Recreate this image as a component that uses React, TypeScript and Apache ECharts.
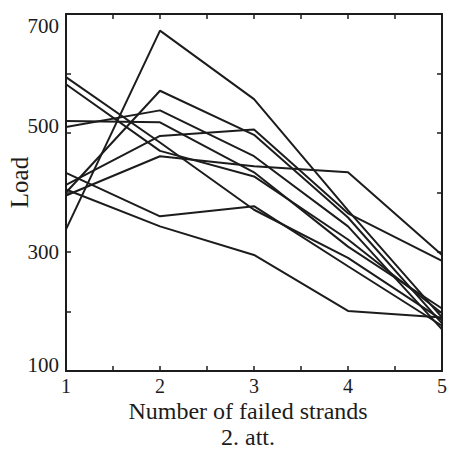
import { useEffect, useRef } from "react";
import * as echarts from "echarts";

// Number of failed strands (x) and load values for each test run
const strands = [1, 2, 3, 4, 5];
const run1 = [338, 672, 557, 370, 190];
const run2 = [400, 571, 497, 358, 180];
const run3 = [413, 495, 506, 365, 285];
const run4 = [395, 461, 444, 434, 295];
const run5 = [594, 484, 371, 290, 186];
const run6 = [582, 470, 427, 321, 197];
const run7 = [510, 538, 461, 343, 170];
const run8 = [520, 518, 434, 309, 205];
const run9 = [433, 360, 377, 276, 176];
const run10 = [405, 343, 295, 201, 190];
const runs = [run1, run2, run3, run4, run5, run6, run7, run8, run9, run10];

const yTickLabels = [100, 300, 500, 700];
const xTickLabels = [1, 2, 3, 4, 5];

const FONT = "Liberation Serif";
const INK = "#1c1c1c";

export default function App() {
  const ref = useRef<HTMLDivElement>(null);
  useEffect(() => {
    document.body.style.margin = "0";
    const chart = echarts.init(ref.current!, null, { renderer: "svg" });
    const tickStyle = { show: true, inside: true, length: 5, lineStyle: { color: INK, width: 1.5 } };
    const lineStyle = { show: true, lineStyle: { color: INK, width: 2 } };
    const labelBase = { fontFamily: FONT, fontSize: 21, color: INK };
    chart.setOption({
      animation: false,
      backgroundColor: "#ffffff",
      grid: {
        left: 66,
        top: 14,
        width: 376,
        height: 357,
        containLabel: false,
        outerBoundsMode: "none",
      },
      xAxis: [
        {
          type: "value",
          min: 1,
          max: 5,
          interval: 0.5,
          position: "bottom",
          axisLine: lineStyle,
          axisTick: tickStyle,
          splitLine: { show: false },
          axisLabel: {
            ...labelBase,
            fontSize: 20,
            lineHeight: 20,
            margin: 5,
            formatter: (v: number) => (xTickLabels.includes(v) ? String(v) : ""),
          },
          name: "Number of failed strands\n2. att.",
          nameLocation: "middle",
          nameMoveOverlap: false,
          nameGap: 27,
          nameTextStyle: {
            fontFamily: FONT,
            fontSize: 24,
            color: INK,
            lineHeight: 26,
            verticalAlign: "top",
            padding: [0, 12, 0, 0],
          },
        },
        {
          type: "value",
          min: 1,
          max: 5,
          interval: 0.5,
          position: "top",
          axisLine: lineStyle,
          axisTick: tickStyle,
          splitLine: { show: false },
          axisLabel: { show: false },
        },
      ],
      yAxis: [
        {
          type: "value",
          min: 100,
          max: 700,
          interval: 100,
          position: "left",
          axisLine: lineStyle,
          axisTick: tickStyle,
          splitLine: { show: false },
          axisLabel: {
            ...labelBase,
            margin: 7,
            formatter: (v: number) => (yTickLabels.includes(v) ? `{l${v}|${v}}` : ""),
            rich: {
              l100: { ...labelBase, padding: [0, 0, 12, 0] },
              l300: { ...labelBase },
              l500: { ...labelBase, padding: [0, 0, 14, 0] },
              l700: { ...labelBase, padding: [24, 0, 0, 0] },
            },
          },
          name: "Load",
          nameLocation: "middle",
          nameMoveOverlap: false,
          nameGap: 34,
          nameTextStyle: { fontFamily: FONT, fontSize: 25, color: INK, padding: [0, 0, 0, 20] },
        },
        {
          type: "value",
          min: 100,
          max: 700,
          interval: 100,
          position: "right",
          axisLine: lineStyle,
          axisTick: tickStyle,
          splitLine: { show: false },
          axisLabel: { show: false },
        },
      ],
      series: runs.map((r, i) => ({
        name: `Run ${i + 1}`,
        type: "line",
        xAxisIndex: 0,
        yAxisIndex: 0,
        symbol: "none",
        lineStyle: { color: INK, width: 2 },
        data: strands.map((s, j) => [s, r[j]]),
      })),
    });
    return () => chart.dispose();
  }, []);
  return <div ref={ref} style={{ width: 455, height: 453 }} />;
}
